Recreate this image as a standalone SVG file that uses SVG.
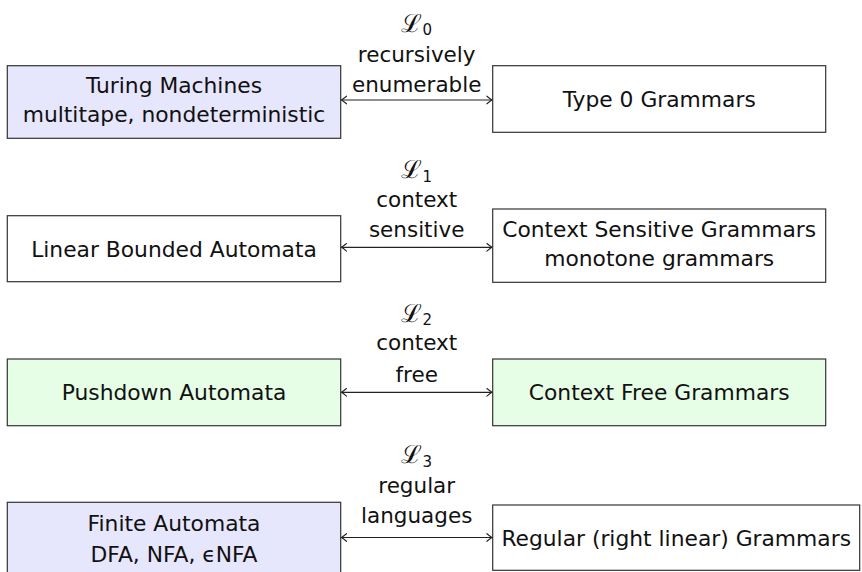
<svg xmlns="http://www.w3.org/2000/svg" width="862" height="572" viewBox="0 0 862 572">
<style>
.box{stroke:#333;stroke-width:1.2}
.white{fill:#ffffff}
.blue{fill:#e6e6fc}
.green{fill:#e6fde6}
text{font-family:"DejaVu Sans",sans-serif;font-size:21.8px;fill:#111;text-anchor:middle}
.lbl{font-size:21.5px}
.math{font-family:"DejaVu Serif",serif;font-size:25px}
.sub{font-family:"DejaVu Sans",sans-serif;font-size:15px}
.conn{stroke:#222;stroke-width:1.2;fill:none;marker-start:url(#ah);marker-end:url(#ah)}
</style>
<defs>
<marker id="ah" viewBox="-6 -5 8 10" refX="0" refY="0" markerWidth="8" markerHeight="10" markerUnits="userSpaceOnUse" orient="auto-start-reverse">
<path d="M -5 -3.8 Q -1.2 -0.8 0 0 Q -1.2 0.8 -5 3.8" fill="none" stroke="#222" stroke-width="1.1" stroke-linecap="round"/>
</marker>
</defs>
<rect width="862" height="572" fill="#ffffff"/>

<g id="turing">
<rect class="box blue" x="7.3" y="65.7" width="333.4" height="72.6"/>
<text x="174" y="93.3">Turing Machines</text>
<text x="174" y="121.7">multitape, nondeterministic</text>
</g>
<g id="type0">
<rect class="box white" x="492.7" y="65.7" width="333" height="66.6"/>
<text x="659.2" y="106.5">Type 0 Grammars</text>
</g>

<g id="lba">
<rect class="box white" x="7.3" y="215.7" width="333.4" height="66"/>
<text x="174" y="256.5">Linear Bounded Automata</text>
</g>
<g id="csg">
<rect class="box white" x="492.7" y="209" width="333" height="73.3"/>
<text x="659.2" y="236.7">Context Sensitive Grammars</text>
<text x="659.2" y="266">monotone grammars</text>
</g>

<g id="pda">
<rect class="box green" x="7.3" y="359" width="333.4" height="66.7"/>
<text x="174" y="400">Pushdown Automata</text>
</g>
<g id="cfg">
<rect class="box green" x="492.7" y="359" width="333" height="66.7"/>
<text x="659.2" y="400">Context Free Grammars</text>
</g>

<g id="fa">
<rect class="box blue" x="7.3" y="502.3" width="333.4" height="73"/>
<text x="174" y="530.7">Finite Automata</text>
<text x="174" y="561.7">DFA, NFA, ϵNFA</text>
</g>
<g id="reg">
<rect class="box white" x="492.7" y="505" width="367" height="65.3"/>
<text x="676.2" y="545.5">Regular (right linear) Grammars</text>
</g>

<g id="connectors">
<line class="conn" x1="341.5" y1="100" x2="491.9" y2="100"/>
<line class="conn" x1="341.5" y1="247.3" x2="491.9" y2="247.3"/>
<line class="conn" x1="341.5" y1="392.3" x2="491.9" y2="392.3"/>
<line class="conn" x1="341.5" y1="537.5" x2="491.9" y2="537.5"/>
</g>

<g id="labels">
<text class="math" x="416.7" y="31.7">ℒ<tspan class="sub" dy="3.5">0</tspan></text>
<text class="lbl" x="416.7" y="61.7">recursively</text>
<text class="lbl" x="416.7" y="91.7">enumerable</text>

<text class="math" x="416.7" y="178.3">ℒ<tspan class="sub" dy="3.5">1</tspan></text>
<text class="lbl" x="416.7" y="206.7">context</text>
<text class="lbl" x="416.7" y="237.3">sensitive</text>

<text class="math" x="416.7" y="321.7">ℒ<tspan class="sub" dy="3.5">2</tspan></text>
<text class="lbl" x="416.7" y="350">context</text>
<text class="lbl" x="416.7" y="381.7">free</text>

<text class="math" x="416.7" y="463.3">ℒ<tspan class="sub" dy="3.5">3</tspan></text>
<text class="lbl" x="416.7" y="493.3">regular</text>
<text class="lbl" x="416.7" y="523.3">languages</text>
</g>
</svg>
